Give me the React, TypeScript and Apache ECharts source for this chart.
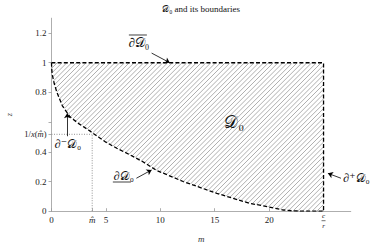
import React, { useEffect, useRef } from "react";
import * as echarts from "echarts";

// lower boundary curve of D0
const curveM = [0, 0.02, 0.07, 0.25, 0.5, 1, 1.7, 2.5, 3.4, 4.3, 5, 6, 7.2, 8.4, 9.65, 12.1, 15.2, 18.2, 19.9, 21.3, 22.2, 23.5, 25];
const curveZ = [1, 0.96, 0.92, 0.86, 0.8, 0.71, 0.636, 0.59, 0.547, 0.5, 0.465, 0.424, 0.38, 0.333, 0.275, 0.2, 0.12, 0.053, 0.03, 0.008, 0.002, 0.0, 0];

const mHat = 3.74;
const invXmHat = 0.518;
const cOverR = 25;
const topZ = 1;
const xMax = 27.5;
const yMax = 1.3;

const xLabelValues = [0, mHat, 5, 10, 15, 20];
const xTickValues = [0, mHat, 5, 10, 15, 20, cOverR];
const yLabelValues = [0, 0.2, 0.4, invXmHat, 0.8, 1, 1.2];
const yTickValues = [0, 0.2, 0.4, invXmHat, 0.6, 0.8, 1, 1.2];

// annotation arrows (data coords)
const arrowFrom = [[9.2, 1.065], [1.45, 0.505], [7.8, 0.222], [26.6, 0.222]];
const arrowTo = [[10.87, 1.0], [1.45, 0.66], [9.2, 0.278], [25.4, 0.255]];

// annotation label anchors (data coords)
const labelTopPos = [8.03, 1.133];
const labelMainPos = [16.8, 0.6];
const labelMinusPos = [1.51, 0.452];
const labelLowerPos = [6.65, 0.237];
const labelPlusPos = [28.03, 0.224];

const SERIF = '"Liberation Serif", "DejaVu Serif", serif';
const CAL = "\u{1D49F}";

export default function App() {
  const ref = useRef<HTMLDivElement>(null);
  useEffect(() => {
    if (!ref.current) return;
    const chart = echarts.init(ref.current, undefined, { renderer: "svg" });
    const curve = curveM.map((m, i) => [m, curveZ[i]]);
    const boundary = [...curve, [cOverR, topZ], [0, topZ]];
    const hatchPoly = boundary;

    chart.setOption({
      animation: false,
      grid: { left: 51.5, right: 38.25, top: 18.2, bottom: 31.8, containLabel: false, outerBoundsMode: "none" },
      xAxis: {
        type: "value",
        min: 0,
        max: xMax,
        splitLine: { show: false },
        axisLine: { show: true, lineStyle: { color: "#999", width: 0.8 } },
        axisTick: { show: true, inside: true, length: 3, customValues: xTickValues, lineStyle: { color: "#999", width: 0.8 } },
        axisLabel: {
          customValues: xLabelValues,
          margin: 4,
          fontSize: 9,
          fontFamily: SERIF,
          color: "#222",
          formatter: (v: number) => (Math.abs(v - mHat) < 1e-6 ? "{i|m\u0302}" : String(v)),
          rich: { i: { fontSize: 9, fontStyle: "italic", fontFamily: SERIF, color: "#222" } },
        },
        name: "m",
        nameLocation: "middle",
        nameGap: 23,
        nameTextStyle: { fontStyle: "italic", fontSize: 9, fontFamily: SERIF, color: "#333" },
      },
      yAxis: {
        type: "value",
        min: 0,
        max: yMax,
        interval: 0.2,
        splitLine: { show: false },
        axisLine: { show: true, lineStyle: { color: "#999", width: 0.8 } },
        axisTick: { show: true, length: 3, customValues: yTickValues, lineStyle: { color: "#999", width: 0.8 } },
        axisLabel: {
          customValues: yLabelValues,
          margin: 5,
          fontSize: 9,
          fontFamily: SERIF,
          color: "#222",
          formatter: (v: number) =>
            Math.abs(v - invXmHat) < 1e-6 ? "{n|1/}{i|x}{n|(}{i|m\u0302}{n|)}" : String(Math.round(v * 10) / 10),
          rich: {
            n: { fontSize: 8.5, fontFamily: SERIF, color: "#222" },
            i: { fontSize: 8.5, fontStyle: "italic", fontFamily: SERIF, color: "#222" },
          },
        },
        name: "z",
        nameLocation: "middle",
        nameGap: 36,
        nameRotate: 90,
        nameTextStyle: { fontStyle: "italic", fontSize: 8, fontFamily: SERIF, color: "#333" },
      },
      series: [
        {
          type: "custom",
          coordinateSystem: "cartesian2d",
          silent: true,
          clip: false,
          z: 1,
          data: [[0, 0]],
          renderItem: (_params: any, api: any) => {
            const pts = hatchPoly.map((p) => api.coord(p));
            let lo = Infinity;
            let hi = -Infinity;
            pts.forEach(([x, y]: number[]) => {
              lo = Math.min(lo, x + y);
              hi = Math.max(hi, x + y);
            });
            const step = 4.8;
            const children: any[] = [];
            for (let c = Math.ceil(lo / step) * step; c <= hi; c += step) {
              const xs: number[] = [];
              for (let i = 0; i < pts.length; i++) {
                const a = pts[i];
                const b = pts[(i + 1) % pts.length];
                const fa = a[0] + a[1] - c;
                const fb = b[0] + b[1] - c;
                if (fa < 0 !== fb < 0) {
                  const t = fa / (fa - fb);
                  xs.push(a[0] + t * (b[0] - a[0]));
                }
              }
              xs.sort((u, v) => u - v);
              for (let k = 0; k + 1 < xs.length; k += 2) {
                children.push({
                  type: "line",
                  shape: { x1: xs[k], y1: c - xs[k], x2: xs[k + 1], y2: c - xs[k + 1] },
                  style: { stroke: "#9a9a9a", lineWidth: 0.8 },
                });
              }
            }
            return { type: "group", children };
          },
        },
        {
          type: "line",
          data: [[0, invXmHat], [mHat, invXmHat]],
          showSymbol: false,
          silent: true,
          z: 2,
          lineStyle: { color: "#888", width: 0.9, type: [1, 1.5] },
        },
        {
          type: "line",
          data: [[mHat, 0], [mHat, invXmHat]],
          showSymbol: false,
          silent: true,
          z: 2,
          lineStyle: { color: "#888", width: 0.9, type: [1, 1.5] },
        },
        {
          type: "line",
          data: boundary,
          showSymbol: false,
          silent: true,
          z: 5,
          lineStyle: { color: "#000", width: 1.3, type: [4, 2.2] },
          markLine: {
            silent: true,
            symbol: ["none", "arrow"],
            symbolSize: 5,
            label: { show: false },
            lineStyle: { color: "#000", width: 0.8, type: "solid" },
            data: arrowFrom.map((f, i) => [{ coord: f }, { coord: arrowTo[i] }]),
          },
        },
      ],
    });

    const px = (p: number[]) => chart.convertToPixel({ gridIndex: 0 }, p) as number[];
    const p0 = px([0, 0]);
    const pEnd = px([xMax, 0]);
    const pTop = px(labelTopPos);
    const pMain = px(labelMainPos);
    const pMinus = px(labelMinusPos);
    const pLower = px(labelLowerPos);
    const pPlus = px(labelPlusPos);
    const pCR = px([cOverR, 0]);
    const txt = (x: number, y: number, text: string, size: number, extra: any = {}) => ({
      type: "text",
      x,
      y,
      silent: true,
      z: 10,
      style: { text, fontSize: size, fontFamily: SERIF, fill: "#111", align: "center", verticalAlign: "middle", ...extra },
    });
    const ln = (x1: number, y1: number, x2: number, y2: number, w = 0.8) => ({
      type: "line",
      silent: true,
      z: 10,
      shape: { x1, y1, x2, y2 },
      style: { stroke: "#111", lineWidth: w },
    });

    chart.setOption({
      graphic: [
        txt((p0[0] + pEnd[0]) / 2, 9, CAL + "\u2080 and its boundaries", 9),
        txt(pTop[0], pTop[1], "\u2202" + CAL + "\u2080", 13),
        ln(pTop[0] - 10, pTop[1] - 8, pTop[0] + 8, pTop[1] - 8),
        txt(pMain[0], pMain[1], CAL + "\u2080", 17),
        txt(pMinus[0], pMinus[1], "\u2202\u207B" + CAL + "\u2080", 12),
        txt(pLower[0], pLower[1], "\u2202" + CAL + "\u2080", 12),
        ln(pLower[0] - 11, pLower[1] + 6, pLower[0] + 7, pLower[1] + 6),
        txt(pPlus[0], pPlus[1], "\u2202\u207A" + CAL + "\u2080", 12),
        txt(pCR[0], pCR[1] + 5, "c", 7, { fontStyle: "italic" }),
        ln(pCR[0] - 2, pCR[1] + 9.5, pCR[0] + 2, pCR[1] + 9.5, 0.6),
        txt(pCR[0], pCR[1] + 15, "r", 7, { fontStyle: "italic" }),
      ],
    });

    return () => chart.dispose();
  }, []);
  return <div ref={ref} style={{ position: "absolute", left: 0, top: 0, width: 389, height: 243 }} />;
}
